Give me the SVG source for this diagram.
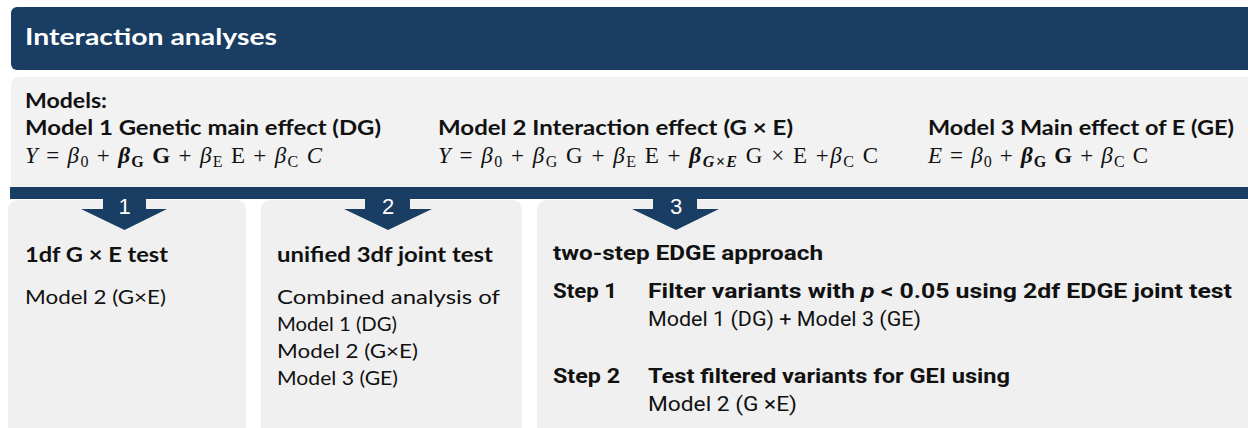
<svg xmlns="http://www.w3.org/2000/svg" width="1248" height="428" viewBox="0 0 1248 428">
<style>
.hdr{fill:#193d63}
.panel{fill:#f2f2f2}
.box{fill:#f0f0f0}
.t{font-family:"Lato","Liberation Sans",sans-serif;fill:#111;font-size:20px}
.b{font-weight:bold}
.n{font-family:"Roboto","Liberation Sans",sans-serif;fill:#111;font-size:20px}
.m{font-family:"Liberation Serif","DejaVu Serif",serif;fill:#111;font-size:23px}
.i{font-style:italic}
.bi{font-style:italic;font-weight:bold}
.num{font-family:"Liberation Sans",Arial,sans-serif;fill:#fff;font-size:22px;text-anchor:middle}
</style>
<g id="header">
<rect class="hdr" x="11" y="7" width="1260" height="63" rx="6"/>
<text x="25" y="45" font-family="Lato, Liberation Sans, sans-serif" font-weight="bold" font-size="22" fill="#fff" textLength="252" lengthAdjust="spacingAndGlyphs">Interaction analyses</text>
</g>
<g id="models">
<rect class="panel" x="11" y="77" width="1260" height="120" rx="8"/>
<text class="t b" x="25" y="108" textLength="82" lengthAdjust="spacingAndGlyphs">Models:</text>
<text class="t b" x="25" y="135" textLength="356" lengthAdjust="spacingAndGlyphs">Model 1 Genetic main effect (DG)</text>
<text class="m" x="25" y="163" textLength="297" lengthAdjust="spacing"><tspan class="i">Y</tspan> = <tspan class="i">β</tspan><tspan font-size="16" dy="4">0</tspan><tspan dy="-4"> + </tspan><tspan class="bi">β</tspan><tspan font-size="16" font-weight="bold" dy="4">G</tspan><tspan dy="-4" font-weight="bold"> G</tspan> + <tspan class="i">β</tspan><tspan font-size="16" dy="4">E</tspan><tspan dy="-4"> E  + </tspan><tspan class="i">β</tspan><tspan font-size="16" dy="4">C</tspan><tspan dy="-4" class="i"> C</tspan></text>
<text class="t b" x="438" y="135" textLength="355" lengthAdjust="spacingAndGlyphs">Model 2 Interaction effect (G × E)</text>
<text class="m" x="438" y="163" textLength="440" lengthAdjust="spacing"><tspan class="i">Y</tspan> = <tspan class="i">β</tspan><tspan font-size="16" dy="4">0</tspan><tspan dy="-4"> + </tspan><tspan class="i">β</tspan><tspan font-size="16" dy="4">G</tspan><tspan dy="-4"> G  + </tspan><tspan class="i">β</tspan><tspan font-size="16" dy="4">E</tspan><tspan dy="-4"> E +  </tspan><tspan class="bi">β</tspan><tspan font-size="16" class="bi" dy="4">G×E</tspan><tspan dy="-4"> G × E  +</tspan><tspan class="i">β</tspan><tspan font-size="16" dy="4">C</tspan><tspan dy="-4"> C</tspan></text>
<text class="t b" x="928" y="135" textLength="306" lengthAdjust="spacingAndGlyphs">Model 3 Main effect of E (GE)</text>
<text class="m" x="928" y="163" textLength="220" lengthAdjust="spacing"><tspan class="i">E</tspan> = <tspan class="i">β</tspan><tspan font-size="16" dy="4">0</tspan><tspan dy="-4"> + </tspan><tspan class="bi">β</tspan><tspan font-size="16" font-weight="bold" dy="4">G</tspan><tspan dy="-4" font-weight="bold"> G</tspan> + <tspan class="i">β</tspan><tspan font-size="16" dy="4">C</tspan><tspan dy="-4"> C</tspan></text>
</g>
<g id="box1">
<rect class="box" x="8" y="200" width="238" height="240" rx="9"/>
<text class="t b" x="25" y="262" textLength="143" lengthAdjust="spacingAndGlyphs">1df G × E test</text>
<text class="t" x="25" y="304" textLength="141" lengthAdjust="spacingAndGlyphs">Model 2 (G×E)</text>
</g>
<g id="box2">
<rect class="box" x="261" y="200" width="261" height="240" rx="9"/>
<text class="t b" x="277" y="262" textLength="216" lengthAdjust="spacingAndGlyphs">unified 3df joint test</text>
<text class="t" x="277" y="304" textLength="223" lengthAdjust="spacingAndGlyphs">Combined analysis of</text>
<text class="t" x="277" y="331" textLength="120" lengthAdjust="spacingAndGlyphs">Model 1 (DG)</text>
<text class="t" x="277" y="358" textLength="141" lengthAdjust="spacingAndGlyphs">Model 2 (G×E)</text>
<text class="t" x="277" y="385" textLength="121" lengthAdjust="spacingAndGlyphs">Model 3 (GE)</text>
</g>
<g id="box3">
<rect class="box" x="537" y="200" width="730" height="240" rx="9"/>
<text class="n b" x="553" y="260" textLength="270" lengthAdjust="spacingAndGlyphs">two-step EDGE approach</text>
<text class="n b" x="553" y="298" textLength="64" lengthAdjust="spacingAndGlyphs">Step 1</text>
<text class="n b" x="648" y="298" textLength="584" lengthAdjust="spacingAndGlyphs">Filter variants with <tspan font-style="italic">p</tspan> &lt; 0.05 using 2df EDGE joint test</text>
<text class="n" x="648" y="326" textLength="273" lengthAdjust="spacingAndGlyphs">Model 1 (DG) +  Model 3 (GE)</text>
<text class="n b" x="553" y="383" textLength="67" lengthAdjust="spacingAndGlyphs">Step 2</text>
<text class="n b" x="648" y="383" textLength="362" lengthAdjust="spacingAndGlyphs">Test filtered variants for GEI using</text>
<text class="n" x="648" y="411" textLength="149" lengthAdjust="spacingAndGlyphs">Model 2 (G ×E)</text>
</g>
<g id="connectors">
<rect class="hdr" x="10" y="187" width="1240" height="12"/>
<polygon class="hdr" points="103,198 146,198 146,209 167,209 124.5,230 81,209 103,209"/>
<polygon class="hdr" points="365,198 410,198 410,209 432,209 388,230 344,209 365,209"/>
<polygon class="hdr" points="653,198 697,198 697,209 719,209 676,230 632,209 653,209"/>
<text class="num" x="124.5" y="214">1</text>
<text class="num" x="388" y="214">2</text>
<text class="num" x="676" y="214">3</text>
</g>
</svg>
